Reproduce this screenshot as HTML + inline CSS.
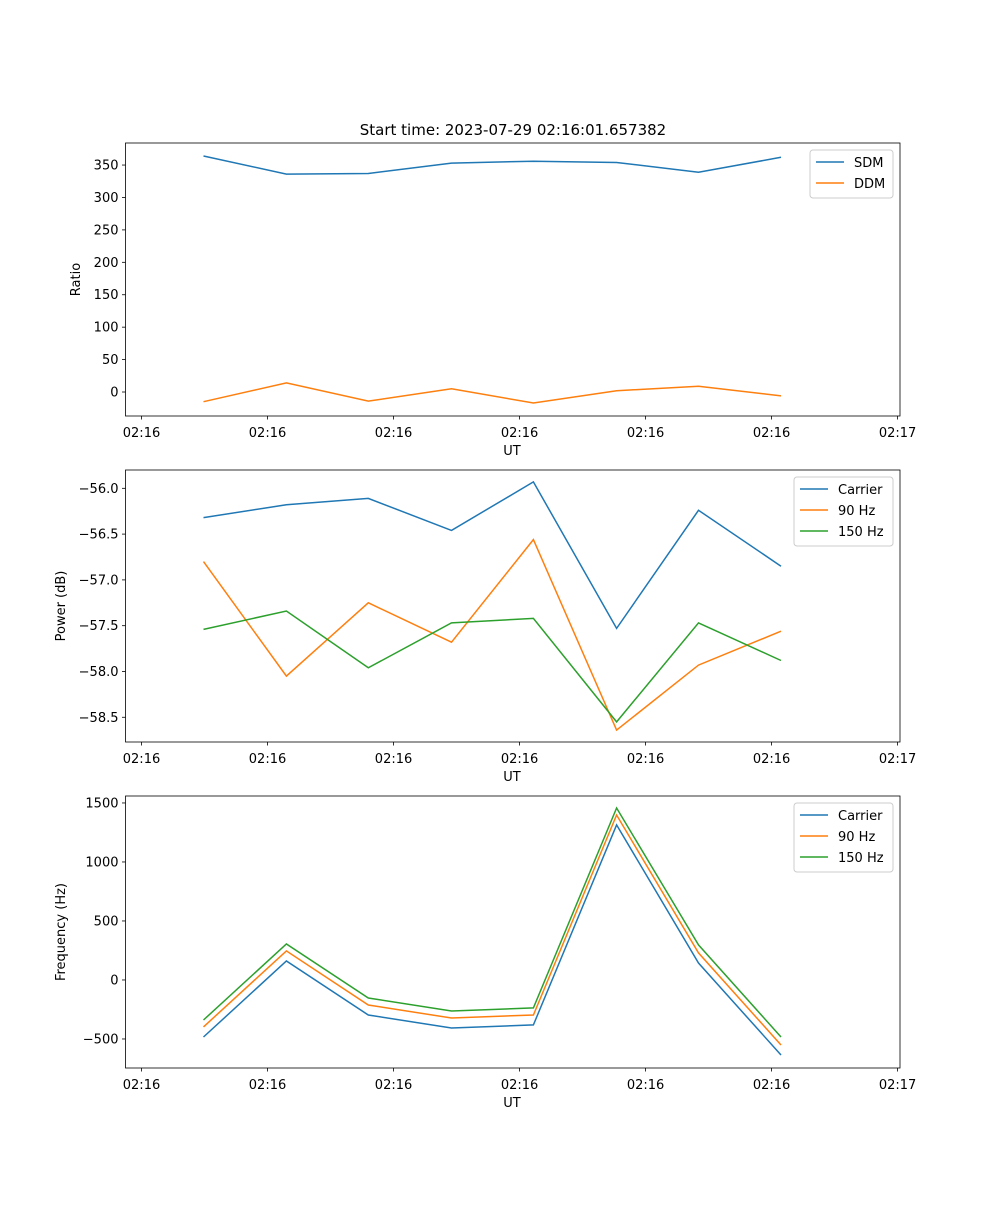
<!DOCTYPE html>
<html><head><meta charset="utf-8"><style>
html,body{margin:0;padding:0;background:#fff}
svg text{font-family:"DejaVu Sans","Liberation Sans",sans-serif;fill:#000}
</style></head><body>
<svg id="fig" width="1000" height="1200" xmlns="http://www.w3.org/2000/svg">
<text x="513" y="135" font-size="15" text-anchor="middle">Start time: 2023-07-29 02:16:01.657382</text>
</svg>
<script>
const times = [4.92, 11.5, 18.0, 24.6, 31.1, 37.7, 44.2, 50.75];
const xTicks = [0, 10, 20, 30, 40, 50, 60];
const xTickLabels = ["02:16","02:16","02:16","02:16","02:16","02:16","02:17"];
const sdm = [364, 336, 337, 353, 356, 354, 339, 362];
const ddm = [-15, 14, -14, 5, -17, 2, 9, -6];
const powCarrier = [-56.32, -56.18, -56.11, -56.46, -55.93, -57.53, -56.24, -56.85];
const pow90 = [-56.80, -58.05, -57.25, -57.68, -56.56, -58.64, -57.93, -57.56];
const pow150 = [-57.54, -57.34, -57.96, -57.47, -57.42, -58.55, -57.47, -57.88];
const freqCarrier = [-483, 161, -297, -407, -381, 1314, 144, -636];
const freq90 = [-398, 246, -212, -322, -297, 1398, 229, -551];
const freq150 = [-339, 305, -153, -263, -237, 1457, 297, -483];
const ratioTicks = [0,50,100,150,200,250,300,350];
const powTicks = [-56.0,-56.5,-57.0,-57.5,-58.0,-58.5];
const freqTicks = [-500,0,500,1000,1500];

const NS="http://www.w3.org/2000/svg";
const svg=document.getElementById('fig');
function mk(tag,attrs,parent){const e=document.createElementNS(NS,tag);for(const k in attrs)e.setAttribute(k,attrs[k]);(parent||svg).appendChild(e);return e;}
const colors=['#1f77b4','#ff7f0e','#2ca02c'];
const L=125.5,R=900,xmin=-1.27,xmax=60.19;
const xs=t=>L+(t-xmin)/(xmax-xmin)*(R-L);

function panel(name,top,bot,ymin,ymax,ticks,fmt,ylabel,series,names,legW){
  const g=mk('g',{});
  
  
  const ys=v=>bot-(v-ymin)/(ymax-ymin)*(bot-top);
  series.forEach((s,i)=>{
    const p=mk('polyline',{points:s.map((v,j)=>xs(times[j]).toFixed(1)+','+ys(v).toFixed(1)).join(' '),fill:'none',stroke:colors[i],'stroke-width':1.5},g);
    
    
  });
  mk('rect',{x:L,y:top,width:R-L,height:bot-top,fill:'none',stroke:'#000','stroke-width':0.8},g);
  xTicks.forEach((t,i)=>{
    const x=xs(t);
    mk('line',{x1:x,x2:x,y1:bot,y2:bot+3.5,stroke:'#000','stroke-width':0.8},g);
    const tx=mk('text',{x:x,y:bot+21,'font-size':13,'text-anchor':'middle'},g);tx.textContent=xTickLabels[i];
    
    
  });
  ticks.forEach(v=>{
    const y=ys(v);
    mk('line',{x1:L-3.5,x2:L,y1:y,y2:y,stroke:'#000','stroke-width':0.8},g);
    const tx=mk('text',{x:L-7,y:y+4.5,'font-size':13,'text-anchor':'end'},g);tx.textContent=fmt(v);
    
    
  });
  const xl=mk('text',{x:512,y:bot+39,'font-size':13,'text-anchor':'middle'},g);xl.textContent='UT';
  
  
  const yx=name==='ratio'?80:65;
  const yl=mk('text',{x:yx,y:(top+bot)/2,'font-size':13,'text-anchor':'middle',transform:`rotate(-90 ${yx} ${(top+bot)/2})`},g);yl.textContent=ylabel;
  
  
  const lx=R-7-legW,ly=top+7,lh=names.length*21+6;
  const lg=mk('g',{},g);
  
  
  mk('rect',{x:lx,y:ly,width:legW,height:lh,rx:3,fill:'#fff','fill-opacity':0.8,stroke:'#ccc','stroke-width':1},lg);
  names.forEach((n,i)=>{
    const yy=ly+12+i*21;
    mk('line',{x1:lx+6,x2:lx+34,y1:yy,y2:yy,stroke:colors[i],'stroke-width':1.5},lg);
    const t=mk('text',{x:lx+44,y:yy+5,'font-size':13},lg);t.textContent=n;
    
    
  });
}
panel('ratio',143,416,-37,384,ratioTicks,v=>String(v),'Ratio',[sdm,ddm],['SDM','DDM'],83);
panel('power',470,742,-58.77,-55.80,powTicks,v=>'\u2212'+Math.abs(v).toFixed(1),'Power (dB)',[powCarrier,pow90,pow150],['Carrier','90 Hz','150 Hz'],99);
panel('frequency',796,1068,-746,1559,freqTicks,v=>(v<0?'\u2212':'')+Math.abs(v),'Frequency (Hz)',[freqCarrier,freq90,freq150],['Carrier','90 Hz','150 Hz'],99);
</script>
</body></html>
